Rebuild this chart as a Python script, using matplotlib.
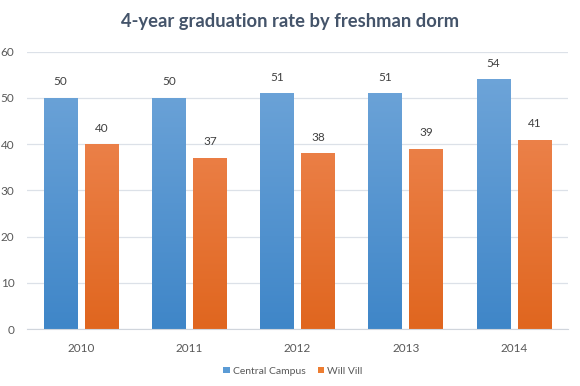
import matplotlib
matplotlib.use("Agg")
import matplotlib.pyplot as plt
import numpy as np
from matplotlib.colors import LinearSegmentedColormap
from matplotlib.patches import Patch

years = ["2010", "2011", "2012", "2013", "2014"]
central = [50, 50, 51, 51, 54]
willvill = [40, 37, 38, 39, 41]
series_names = ["Central Campus", "Will Vill"]

plt.rcParams['font.family'] = ['Lato', 'DejaVu Sans']

fig = plt.figure(figsize=(5.8, 3.86), dpi=100)
ax = fig.add_axes([27/580, 1-329/386, (568-27)/580, (329-51.7)/386])

x = np.arange(len(years))
w = 0.311
off = 0.19

blue_cmap = LinearSegmentedColormap.from_list("b", ["#3F86C8", "#72A7DA"])
orange_cmap = LinearSegmentedColormap.from_list("o", ["#E0661F", "#F18D5C"])

grad = np.linspace(0, 1, 256).reshape(-1, 1)

def gradient_bars(xs, vals, cmap, label):
    bars = ax.bar(xs, vals, w, color="none", edgecolor="none", label=label, zorder=2)
    for b in bars:
        x0 = b.get_x()
        bw, bh = b.get_width(), b.get_height()
        im = ax.imshow(grad, cmap=cmap, aspect="auto", origin="lower",
                       extent=[x0, x0 + bw, 0, 60], zorder=2)
        im.set_clip_path(b)
        ax.text(x0 + bw / 2, bh + 2.3, f"{int(bh)}", ha="center", va="bottom",
                fontsize=8.5, color="#404040")
    return bars

gradient_bars(x - off, central, blue_cmap, series_names[0])
gradient_bars(x + off, willvill, orange_cmap, series_names[1])

ax.set_xlim(-0.5, len(years) - 0.5)
ax.set_ylim(0, 60)
ax.set_yticks(range(0, 61, 10))
ax.set_xticks(x)
ax.set_xticklabels(years)
ax.grid(axis="y", color="#DCE1E8", linewidth=0.9, zorder=0)
ax.set_axisbelow(True)
for s in ["top", "right", "left"]:
    ax.spines[s].set_visible(False)
ax.spines["bottom"].set_color("#D0D5DC")
ax.tick_params(axis="both", length=0, labelsize=8.5, colors="#595959")
ax.tick_params(axis="x", pad=10)
ax.tick_params(axis="y", pad=9)

fig.text(0.5, 1 - 22/386, "4-year graduation rate by freshman dorm", ha="center", va="center",
         fontsize=13.2, fontweight="bold", color="#44546A")

handles = [Patch(facecolor="#5B9BD5"), Patch(facecolor="#ED7D31")]
fig.legend(handles, series_names, loc="center", bbox_to_anchor=(293/580, 1 - 371/386), ncol=2,
           frameon=False, fontsize=7.5, handlelength=0.6, handleheight=0.6,
           handletextpad=0.3, columnspacing=1.2, labelcolor="#595959")

fig.savefig("out.png", dpi=100)
